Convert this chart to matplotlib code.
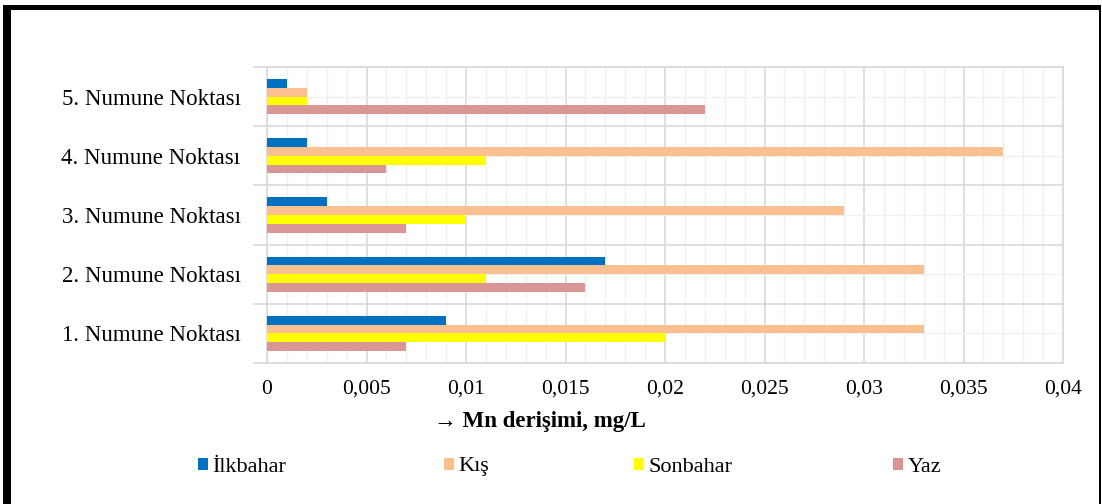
import matplotlib.pyplot as plt
from matplotlib.patches import Rectangle
from matplotlib.ticker import MultipleLocator, FixedLocator
import numpy as np

plt.rcParams['font.family'] = ['Liberation Serif', 'DejaVu Serif']

categories = ["1. Numune Noktası", "2. Numune Noktası", "3. Numune Noktası",
              "4. Numune Noktası", "5. Numune Noktası"]
series_names = ["İlkbahar", "Kış", "Sonbahar", "Yaz"]
ilkbahar = [0.009, 0.017, 0.003, 0.002, 0.001]
kis = [0.033, 0.033, 0.029, 0.037, 0.002]
sonbahar = [0.020, 0.011, 0.010, 0.011, 0.002]
yaz = [0.007, 0.016, 0.007, 0.006, 0.022]
xticks = [0, 0.005, 0.01, 0.015, 0.02, 0.025, 0.03, 0.035, 0.04]
xtick_labels = ["0", "0,005", "0,01", "0,015", "0,02", "0,025", "0,03", "0,035", "0,04"]

colors = ["#0070C0", "#FAC090", "#FFFF00", "#D99694"]
W, H = 1102, 504

fig = plt.figure(figsize=(W / 100, H / 100), dpi=100)
ax = fig.add_axes([267 / W, 1 - 363 / H, (1063 - 267) / W, (363 - 67) / H])

y = np.arange(len(categories))
h = 0.148
offsets = [1.5 * h, 0.5 * h, -0.5 * h, -1.5 * h]
bars = []
for vals, off, c, name in zip([ilkbahar, kis, sonbahar, yaz], offsets, colors, series_names):
    bars.append(ax.barh(y + off, vals, height=h, color=c, label=name, zorder=3))

ax.set_xlim(0, 0.04)
ax.set_ylim(-0.5, 4.5)
ax.set_xticks(xticks)
ax.set_xticklabels(xtick_labels, fontsize=15.5)
ax.xaxis.set_minor_locator(MultipleLocator(0.001))
ax.tick_params(axis='x', which='both', length=0, pad=12)

ax.yaxis.set_major_locator(FixedLocator(np.arange(-0.5, 5, 1)))
ax.set_yticklabels([])
ax.set_yticks(y, minor=True)
ax.set_yticklabels(categories, minor=True, fontsize=16.5)
ax.tick_params(axis='y', which='major', length=10, color='#D9D9D9', width=1.2)
ax.tick_params(axis='y', which='minor', length=0, pad=19)

ax.grid(which='major', color='#D9D9D9', linewidth=1.2, zorder=0)
ax.grid(which='minor', color='#F0F0F0', linewidth=1.0, zorder=0)
ax.set_axisbelow(True)
for s in ax.spines.values():
    s.set_color('#D9D9D9')
    s.set_linewidth(1.2)

fig.text(540 / W, 1 - 422 / H, "→ Mn derişimi, mg/L", ha='center', va='center',
         fontsize=16.5, fontweight='bold')

# legend entries are spread out like the Excel legend
legend_x = [198, 444, 634, 893]
for b, name, lx in zip(bars, series_names, legend_x):
    fig.legend([b], [name], loc='center left', bbox_to_anchor=(lx / W, 1 - 467 / H),
               frameon=False, fontsize=16, handlelength=0.45, handleheight=0.45,
               handletextpad=0.2, borderpad=0, borderaxespad=0)

# outer frame
fig.add_artist(Rectangle((3 / W, 0), 8 / W, 499 / H, transform=fig.transFigure,
                         color='black', lw=0))
fig.add_artist(Rectangle((3 / W, 494 / H), 1098 / W, 5 / H, transform=fig.transFigure,
                         color='black', lw=0))
fig.add_artist(Rectangle((1099 / W, 0), 2 / W, 499 / H, transform=fig.transFigure,
                         color='black', lw=0))

fig.savefig("out.png", dpi=100)
